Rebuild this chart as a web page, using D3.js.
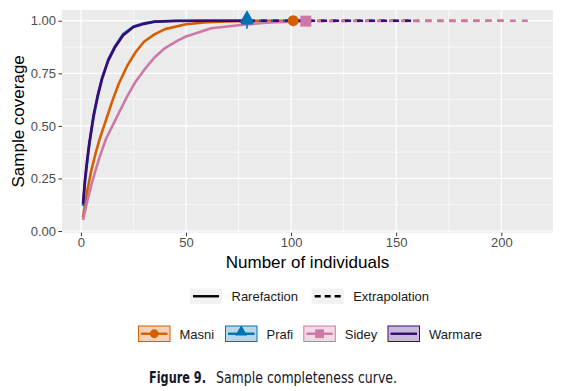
<!DOCTYPE html>
<html lang="en">
<head>
    <meta charset="UTF-8">
    <title>Sample completeness curve</title>
    <script src="https://cdn.jsdelivr.net/npm/d3@7"></script>
    <style>
        body { margin: 0; background: #fff; }
        text { font-family: "Liberation Sans", Arial, sans-serif; }
    </style>
</head>
<body>
<script>
    // sites and colours
    var sites = ["Masni", "Prafi", "Sidey", "Warmare"];
    var colors = ["#D55E00", "#0072B2", "#CC79A7", "#3B0A75"];
    var shapes = ["circle", "triangle", "square", "none"];

    // rarefaction part (sample size, coverage)
    var masniN = [1, 3, 5, 7, 9, 12, 15, 18, 22, 26, 30, 35, 40, 50, 60, 70, 80, 90, 101];
    var masniC = [0.065, 0.19, 0.29, 0.37, 0.44, 0.53, 0.62, 0.70, 0.785, 0.85, 0.90, 0.935, 0.96, 0.983, 0.993, 0.997, 0.999, 1.0, 1.0];
    var prafiN = [1, 2, 3, 4, 6, 8, 10, 13, 16, 20, 25, 30, 35, 45, 60, 79];
    var prafiC = [0.12, 0.24, 0.33, 0.41, 0.54, 0.64, 0.72, 0.815, 0.875, 0.935, 0.972, 0.988, 0.996, 1.0, 1.0, 1.0];
    var sideyN = [1, 3, 5, 7, 9, 12, 15, 18, 22, 26, 30, 35, 40, 46, 50, 62, 76, 90, 107];
    var sideyC = [0.052, 0.14, 0.22, 0.29, 0.355, 0.44, 0.50, 0.56, 0.64, 0.71, 0.765, 0.825, 0.87, 0.905, 0.925, 0.964, 0.98, 0.992, 0.998];
    var warmareN = [1, 2, 3, 4, 6, 8, 10, 13, 16, 20, 25, 30, 35, 45, 60, 80];
    var warmareC = [0.13, 0.25, 0.34, 0.42, 0.55, 0.645, 0.725, 0.81, 0.87, 0.93, 0.97, 0.985, 0.995, 0.999, 1.0, 1.0];

    // extrapolation part, up to twice the observed size
    var masniExtN = [101, 202];
    var masniExtC = [1.0, 1.0];
    var prafiExtN = [79, 158];
    var prafiExtC = [1.0, 1.0];
    var sideyExtN = [107, 214];
    var sideyExtC = [0.998, 1.0];
    var warmareExtN = [80, 160];
    var warmareExtC = [1.0, 1.0];

    var xTicks = [0, 50, 100, 150, 200];
    var yTicks = [0, 0.25, 0.5, 0.75, 1];
    var xMinor = [25, 75, 125, 175];
    var yMinor = [0.125, 0.375, 0.625, 0.875];

    function zip(n, c) { return n.map(function (d, i) { return { n: d, c: c[i] }; }); }
    var rare = [zip(masniN, masniC), zip(prafiN, prafiC), zip(sideyN, sideyC), zip(warmareN, warmareC)];
    var extra = [zip(masniExtN, masniExtC), zip(prafiExtN, prafiExtC), zip(sideyExtN, sideyExtC), zip(warmareExtN, warmareExtC)];

    var width = 561, height = 391;
    var panelL = 62, panelR = 553, panelT = 10, panelB = 232.7;

    var svg = d3.select("body").append("svg")
        .attr("width", width)
        .attr("height", height);

    var x = d3.scaleLinear().domain([-9, 224.6]).range([panelL, panelR]);
    var y = d3.scaleLinear().domain([-0.008, 1.051]).range([panelB, panelT]);

    // panel
    svg.append("rect")
        .attr("x", panelL).attr("y", panelT)
        .attr("width", panelR - panelL).attr("height", panelB - panelT)
        .attr("fill", "#EBEBEB");

    var grid = svg.append("g");
    grid.selectAll(".ym").data(yMinor).enter().append("line")
        .attr("x1", panelL).attr("x2", panelR)
        .attr("y1", y).attr("y2", y)
        .attr("stroke", "#fff").attr("stroke-width", 0.6);
    grid.selectAll(".xm").data(xMinor).enter().append("line")
        .attr("y1", panelT).attr("y2", panelB)
        .attr("x1", x).attr("x2", x)
        .attr("stroke", "#fff").attr("stroke-width", 0.6);
    grid.selectAll(".yM").data(yTicks).enter().append("line")
        .attr("x1", panelL).attr("x2", panelR)
        .attr("y1", y).attr("y2", y)
        .attr("stroke", "#fff").attr("stroke-width", 1.2);
    grid.selectAll(".xM").data(xTicks).enter().append("line")
        .attr("y1", panelT).attr("y2", panelB)
        .attr("x1", x).attr("x2", x)
        .attr("stroke", "#fff").attr("stroke-width", 1.2);

    // axes
    var xAxis = svg.append("g")
        .attr("transform", "translate(0," + panelB + ")")
        .call(d3.axisBottom(x).tickValues(xTicks).tickSize(3.5).tickPadding(1.5).tickFormat(d3.format("d")));
    var yAxis = svg.append("g")
        .attr("transform", "translate(" + panelL + ",0)")
        .call(d3.axisLeft(y).tickValues(yTicks).tickSize(3.5).tickPadding(2.5).tickFormat(d3.format(".2f")));
    [xAxis, yAxis].forEach(function (a) {
        a.select(".domain").remove();
        a.selectAll(".tick line").attr("stroke", "#333");
        a.selectAll(".tick text").attr("fill", "#4D4D4D").style("font-size", "13px")
            .style("font-family", "'Liberation Sans', Arial, sans-serif");
    });

    svg.append("text")
        .attr("x", (panelL + panelR) / 2).attr("y", 268)
        .attr("text-anchor", "middle")
        .style("font-size", "17px")
        .text("Number of individuals");
    svg.append("text")
        .attr("transform", "translate(24," + (panelT + panelB) / 2 + ") rotate(-90)")
        .attr("text-anchor", "middle")
        .style("font-size", "17px")
        .text("Sample coverage");

    // curves
    var line = d3.line()
        .x(function (d) { return x(d.n); })
        .y(function (d) { return y(d.c); });

    var plot = svg.append("g");
    sites.forEach(function (s, i) {
        plot.append("path")
            .datum(rare[i])
            .attr("d", line)
            .attr("fill", "none")
            .attr("stroke", colors[i])
            .attr("stroke-width", 2.6)
            .attr("stroke-linejoin", "round");
    });
    sites.forEach(function (s, i) {
        plot.append("path")
            .datum(extra[i])
            .attr("d", line)
            .attr("fill", "none")
            .attr("stroke", colors[i])
            .attr("stroke-width", 2.6)
            .attr("stroke-dasharray", "6,6");
    });

    function drawShape(g, shape, cx, cy, color, scale) {
        if (shape === "circle") {
            g.append("circle").attr("cx", cx).attr("cy", cy).attr("r", 5.5 * scale).attr("fill", color);
        } else if (shape === "square") {
            g.append("rect").attr("x", cx - 5.5 * scale).attr("y", cy - 5.5 * scale)
                .attr("width", 11 * scale).attr("height", 11 * scale).attr("fill", color);
        } else if (shape === "triangle") {
            g.append("path")
                .attr("d", d3.symbol().type(d3.symbolTriangle).size(95 * scale * scale)())
                .attr("transform", "translate(" + cx + "," + (cy - 2 * scale) + ")")
                .attr("fill", color);
        }
    }

    // observed points at the end of rarefaction
    sites.forEach(function (s, i) {
        var last = rare[i][rare[i].length - 1];
        drawShape(plot, shapes[i], x(last.n), y(last.c), colors[i], 1);
    });
    // small cross under the Prafi triangle
    var pLast = rare[1][rare[1].length - 1];
    plot.append("path")
        .attr("d", "M" + (x(pLast.n) - 6) + "," + (y(pLast.c) + 3) + "h12M" + x(pLast.n) + "," + (y(pLast.c) - 2) + "v10")
        .attr("stroke", colors[1]).attr("stroke-width", 1.6);

    // legend: method
    var methods = ["Rarefaction", "Extrapolation"];
    var methodX = [190, 311.7];
    var leg1 = svg.append("g");
    methods.forEach(function (m, i) {
        var g = leg1.append("g").attr("transform", "translate(" + methodX[i] + ",288.5)");
        g.append("rect").attr("width", 32).attr("height", 15.5).attr("fill", "#F2F2F2");
        g.append("line").attr("x1", 3).attr("x2", 29).attr("y1", 7.75).attr("y2", 7.75)
            .attr("stroke", "#000").attr("stroke-width", 2.4)
            .attr("stroke-dasharray", i === 1 ? "6,4" : null);
        g.append("text").attr("x", 41.5).attr("y", 12.5).style("font-size", "13px").attr("fill", "#1a1a1a").text(m);
    });

    // legend: sites
    var siteX = [138, 225, 303.3, 387.5];
    var leg2 = svg.append("g");
    sites.forEach(function (s, i) {
        var g = leg2.append("g").attr("transform", "translate(" + siteX[i] + ",325.5)");
        g.append("rect").attr("x", 0.5).attr("y", 0.5).attr("width", 31.5).attr("height", 15.5)
            .attr("fill", colors[i]).attr("fill-opacity", 0.28)
            .attr("stroke", colors[i]).attr("stroke-width", 1);
        g.append("line").attr("x1", 3).attr("x2", 29.5).attr("y1", 8.25).attr("y2", 8.25)
            .attr("stroke", colors[i]).attr("stroke-width", 2.4);
        drawShape(g, shapes[i], 16.25, 8.25, colors[i], 0.8);
        g.append("text").attr("x", 41.5).attr("y", 13).style("font-size", "13px").attr("fill", "#1a1a1a").text(s);
    });

    // caption
    var capFont = "'Liberation Sans Narrow', 'DejaVu Sans Condensed', 'Liberation Sans', sans-serif";
    svg.append("text")
        .attr("x", 149).attr("y", 383)
        .attr("textLength", 57).attr("lengthAdjust", "spacingAndGlyphs")
        .style("font-family", capFont).style("font-size", "15.5px").style("font-weight", "bold")
        .attr("fill", "#15152a")
        .text("Figure 9.");
    svg.append("text")
        .attr("x", 216).attr("y", 383)
        .attr("textLength", 181).attr("lengthAdjust", "spacingAndGlyphs")
        .style("font-family", capFont).style("font-size", "15.5px")
        .attr("fill", "#15152a")
        .text("Sample completeness curve.");
</script>
</body>
</html>
